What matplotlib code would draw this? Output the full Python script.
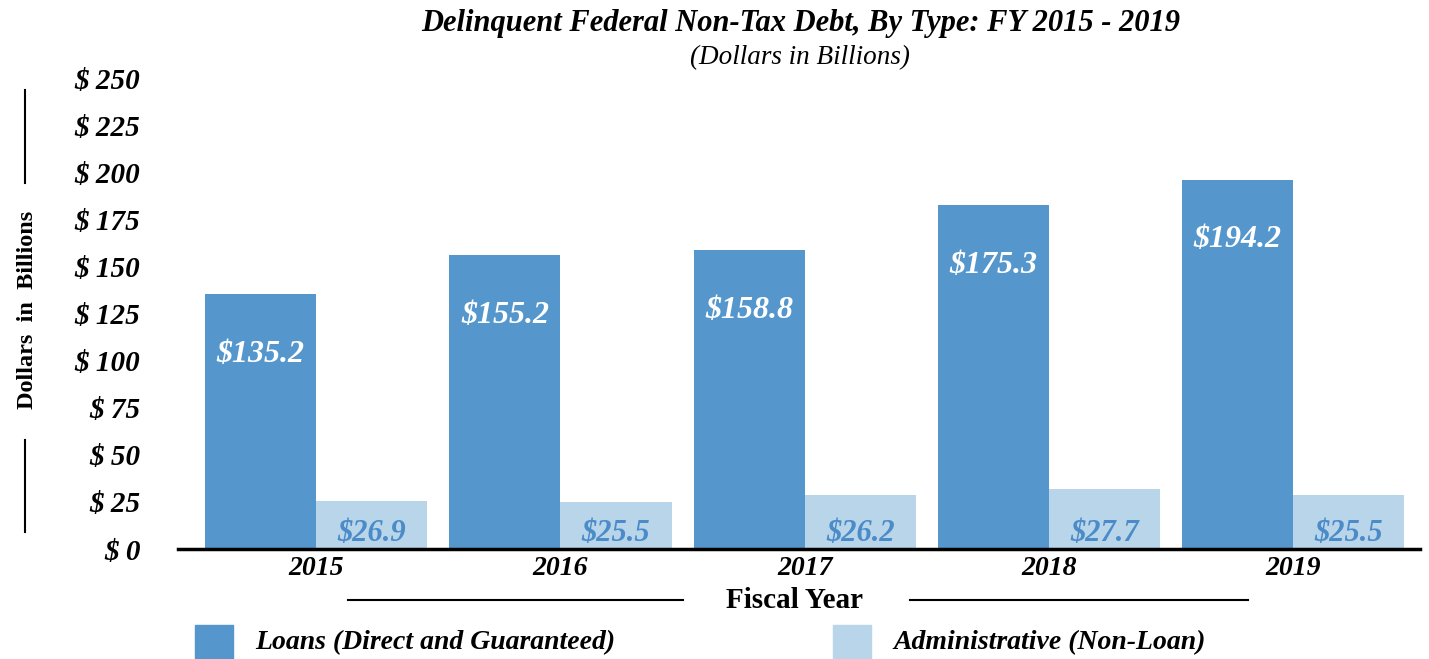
import numpy as np
import matplotlib
matplotlib.use('Agg')
import matplotlib.pyplot as plt
from matplotlib.patches import Rectangle
from matplotlib.lines import Line2D

# данные
years = ['2015', '2016', '2017', '2018', '2019']
loans = [135.3, 156.0, 158.7, 182.6, 195.9]          # высота столбцов, как на картинке
loans_labels = ['$135.2', '$155.2', '$158.8', '$175.3', '$194.2']
admin = [25.5, 25.0, 28.7, 31.8, 28.7]
admin_labels = ['$26.9', '$25.5', '$26.2', '$27.7', '$25.5']
y_ticks = [0, 25, 50, 75, 100, 125, 150, 175, 200, 225, 250]

C_LOAN = '#5597cc'
C_ADMIN = '#b9d5ea'
C_ADMIN_TXT = '#4a8bc8'
SERIF = ['Liberation Serif', 'DejaVu Serif']

plt.rcParams['font.family'] = SERIF

fig = plt.figure(figsize=(14.29, 6.59), dpi=100)
ax = fig.add_axes([0.1246, 0.1669, 0.8691, 0.7147])

x = np.arange(len(years))
w = 0.455
ax.bar(x - w / 2, loans, width=w, color=C_LOAN)
ax.bar(x + w / 2, admin, width=w, color=C_ADMIN)

# подписи значений
for xi, h, lab in zip(x, loans, loans_labels):
    ax.annotate(lab, (xi - w / 2, h), xytext=(0, -60), textcoords='offset pixels',
                ha='center', va='center', color='white', fontsize=23,
                fontweight='bold', fontstyle='italic')
for xi, lab in zip(x, admin_labels):
    ax.annotate(lab, (xi + w / 2, 0), xytext=(0, 16), textcoords='offset pixels',
                ha='center', va='center', color=C_ADMIN_TXT, fontsize=22,
                fontweight='bold', fontstyle='italic')

ax.set_xlim(-0.566, 4.52)
ax.set_ylim(0, 250)
ax.set_yticks(y_ticks)
ax.set_yticklabels([f'$ {v}' for v in y_ticks], fontsize=21, fontweight='bold', fontstyle='italic')
ax.set_xticks(x)
ax.set_xticklabels(years, fontsize=20, fontweight='bold', fontstyle='italic')
ax.tick_params(axis='both', length=0)
ax.tick_params(axis='y', pad=27)
ax.tick_params(axis='x', pad=5)
for s in ['top', 'right', 'left']:
    ax.spines[s].set_visible(False)
ax.spines['bottom'].set_linewidth(2.5)
ax.spines['bottom'].set_color('black')

# заголовки
fig.text(0.56, 0.965, 'Delinquent Federal Non-Tax Debt, By Type: FY 2015 - 2019',
         ha='center', va='center', fontsize=22, fontweight='bold', fontstyle='italic')
fig.text(0.56, 0.913, '(Dollars in Billions)', ha='center', va='center',
         fontsize=19.5, fontstyle='italic')

# подпись оси Y с линиями
fig.text(0.0195, 0.53, 'Dollars  in  Billions', rotation=90, ha='center', va='center',
         fontsize=17.5, fontweight='bold')
fig.add_artist(Line2D([0.0175, 0.0175], [1 - 90 / 659, 1 - 183 / 659], color='black', lw=1.5))
fig.add_artist(Line2D([0.0175, 0.0175], [1 - 440 / 659, 1 - 532 / 659], color='black', lw=1.5))

# подпись оси X с линиями
fig.text(0.556, 1 - 600 / 659, 'Fiscal Year', ha='center', va='center',
         fontsize=21, fontweight='bold')
fig.add_artist(Line2D([348 / 1429, 683 / 1429], [1 - 600 / 659] * 2, color='black', lw=1.5))
fig.add_artist(Line2D([910 / 1429, 1248 / 1429], [1 - 600 / 659] * 2, color='black', lw=1.5))

# легенда
for x0, col, txt in [(195, C_LOAN, 'Loans (Direct and Guaranteed)'),
                     (833, C_ADMIN, 'Administrative (Non-Loan)')]:
    fig.add_artist(Rectangle((x0 / 1429, 1 - 660 / 659), 38 / 1429, 35 / 659,
                             color=col, transform=fig.transFigure))
    fig.text((x0 + 60) / 1429, 1 - 643 / 659, txt, ha='left', va='center',
             fontsize=20, fontweight='bold', fontstyle='italic')

fig.savefig('out.png', dpi=100)
